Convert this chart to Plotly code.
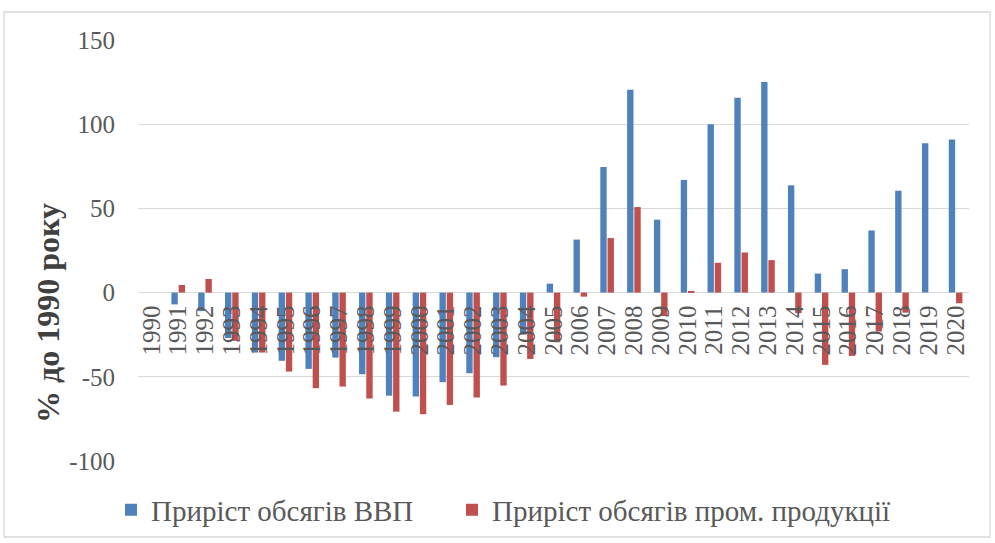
import plotly.graph_objects as go

years = [str(y) for y in range(1990, 2021)]
gdp_growth = [0, -7, -11, -27, -35.6, -40.5, -45.3, -38.6, -48.5, -61.2,
              -61.7, -53.2, -47.9, -38.4, -25, 5.3, 31.5, 74.6, 120.5, 43.3,
              66.9, 100, 115.7, 125, 63.7, 11.3, 13.9, 36.9, 60.5, 88.7, 90.9]
ind_growth = [0, 4.5, 8.1, -28.7, -35.6, -46.9, -56.8, -55.8, -62.9, -70.7,
              -72.2, -66.7, -62.3, -55.2, -39.4, -29.5, -2.4, 32.4, 50.8, -13.9,
              1, 17.7, 23.8, 19.3, -12.2, -42.9, -37.6, -23.1, -11.9, 0, -6.3]
y_ticks = [-100, -50, 0, 50, 100, 150]
y_tick_text = ["-100", "-50", "0", "50", "100", "150"]
series_names = ["Приріст обсягів ВВП", "Приріст обсягів пром. продукції"]
y_title = "% до 1990 року"

FONT = "Liberation Serif"
GRAY = "#595959"
GRID = "#D9D9D9"

fig = go.Figure()
fig.add_trace(go.Bar(x=years, y=gdp_growth, name=series_names[0],
                     marker=dict(color="#4F81BD", line=dict(width=0)),
                     legend="legend2"))
fig.add_trace(go.Bar(x=years, y=ind_growth, name=series_names[1],
                     marker=dict(color="#C0504D", line=dict(width=0)),
                     legend="legend3"))

L, R, T, B = 138, 26, 40, 82
W, H = 995, 543
pw, ph = W - L - R, H - T - B


def px_x(x):
    return (x - L) / pw


def px_y(y):
    return (H - B - y) / ph


legend_common = dict(
    orientation="h", xanchor="left", yanchor="middle",
    font=dict(family=FONT, size=29, color=GRAY),
    itemwidth=30, bgcolor="rgba(0,0,0,0)",
)

fig.update_layout(
    width=W, height=H,
    margin=dict(l=L, r=R, t=T, b=B, pad=0, autoexpand=False),
    paper_bgcolor="white", plot_bgcolor="white",
    barmode="group", bargap=0.46, bargroupgap=0.12,
    font=dict(family=FONT, color=GRAY),
    showlegend=True,
    xaxis=dict(
        type="category", tickangle=-90, anchor="free",
        position=100 / 250, automargin=False,
        tickmode="array", tickvals=years, ticktext=years,
        tickfont=dict(family=FONT, size=25, color=GRAY),
        showgrid=False, showline=False, ticks="", zeroline=False,
        ticklabelstandoff=7,
    ),
    yaxis=dict(
        range=[-100, 150], tickvals=y_ticks, ticktext=y_tick_text,
        automargin=False,
        tickfont=dict(family=FONT, size=25, color=GRAY),
        showgrid=True, gridcolor=GRID, gridwidth=1.3,
        zeroline=True, zerolinecolor=GRID, zerolinewidth=1.3,
        showline=False, ticks="", ticklabelstandoff=22,
    ),
    legend2=dict(x=px_x(111), y=px_y(510), **legend_common),
    legend3=dict(x=px_x(452), y=px_y(510), **legend_common),
    annotations=[dict(text="<b>" + y_title + "</b>", textangle=-90,
                      xref="paper", yref="paper",
                      x=px_x(48), y=px_y(313),
                      xanchor="center", yanchor="middle", showarrow=False,
                      font=dict(family=FONT, size=32, color="#404040"))],
    shapes=[dict(type="rect", xref="paper", yref="paper",
                 x0=px_x(4), x1=px_x(990),
                 y0=px_y(537), y1=px_y(12),
                 line=dict(color=GRID, width=1.3), fillcolor="rgba(0,0,0,0)",
                 layer="below")],
)

fig.write_html("out.html",
               config={"displayModeBar": False},
               post_script="document.body.style.margin='0';document.body.style.overflow='hidden';")
